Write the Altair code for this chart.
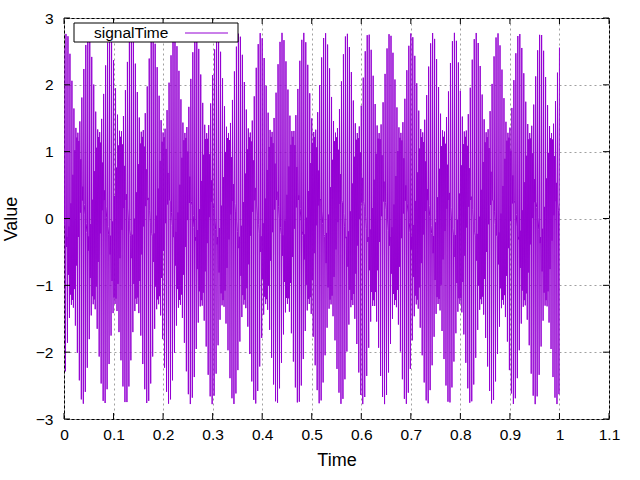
import numpy as np
import pandas as pd
import altair as alt

# ---- chart values ----
x_ticks = [0, 0.1, 0.2, 0.3, 0.4, 0.5, 0.6, 0.7, 0.8, 0.9, 1.0, 1.1]
y_ticks = [-3, -2, -1, 0, 1, 2, 3]
series_name = "signalTime"
x_title = "Time"
y_title = "Value"

# The signal is far too dense to read sample by sample; it is described by
# its estimated sampling and its sinusoidal components (amplitude, Hz, phase).
sample_rate = 1000
n_samples = 1001
comp_amp = [1.25, 1.1, 0.75]
comp_freq = [500.0, 250.0, 273.0]
comp_phase = [np.pi / 2, np.pi / 4, np.pi / 4]

t = np.arange(n_samples) / sample_rate
v = np.zeros_like(t)
for a, f, p in zip(comp_amp, comp_freq, comp_phase):
    v = v + a * np.sin(2 * np.pi * f * t + p)
df = pd.DataFrame({"Time": t, "Value": v})

W, H = 545, 401
FONT = "Liberation Sans"
PURPLE = "#9400d3"

xs = alt.Scale(domain=[0, 1.1], nice=False, zero=False)
ys = alt.Scale(domain=[-3, 3], nice=False, zero=False)
xa = alt.Axis(values=x_ticks, format="~g", title=x_title, ticks=False, domain=False,
              grid=True, gridDash=[2, 3], gridColor="#a0a0a0", gridWidth=1,
              labelPadding=8, titlePadding=9, labelFlush=False)
ya = alt.Axis(values=y_ticks, format="~g", title=y_title, ticks=False, domain=False,
              grid=True, gridDash=[2, 3], gridColor="#a0a0a0", gridWidth=1,
              labelPadding=11, titlePadding=15, labelFlush=False)

line = alt.Chart(df).mark_line(color=PURPLE, strokeWidth=1, clip=True).encode(
    x=alt.X("Time:Q", scale=xs, axis=xa),
    y=alt.Y("Value:Q", scale=ys, axis=ya),
)

xt = pd.DataFrame({"Time": x_ticks})
yt = pd.DataFrame({"Value": y_ticks})
tick_x_bottom = alt.Chart(xt).mark_rule(color="black", strokeWidth=1).encode(
    x=alt.X("Time:Q", scale=xs, axis=xa), y=alt.value(H), y2=alt.value(H - 6))
tick_x_top = alt.Chart(xt).mark_rule(color="black", strokeWidth=1).encode(
    x=alt.X("Time:Q", scale=xs, axis=xa), y=alt.value(0), y2=alt.value(6))
tick_y_left = alt.Chart(yt).mark_rule(color="black", strokeWidth=1).encode(
    y=alt.Y("Value:Q", scale=ys, axis=ya), x=alt.value(0), x2=alt.value(6))
tick_y_right = alt.Chart(yt).mark_rule(color="black", strokeWidth=1).encode(
    y=alt.Y("Value:Q", scale=ys, axis=ya), x=alt.value(W - 6), x2=alt.value(W))

one = pd.DataFrame({"k": [0]})
key_box = alt.Chart(one).mark_rect(fill="white", stroke="black", strokeWidth=1).encode(
    x=alt.value(10), x2=alt.value(174), y=alt.value(5), y2=alt.value(24))
key_text = alt.Chart(one).mark_text(align="left", baseline="middle", font=FONT, fontSize=15.5,
                                    color="black").encode(
    x=alt.value(30), y=alt.value(14.5), text=alt.value(series_name))
key_line = alt.Chart(one).mark_rule(color=PURPLE, strokeWidth=1).encode(
    x=alt.value(121), x2=alt.value(164), y=alt.value(15))

chart = alt.layer(line, tick_x_bottom, tick_x_top, tick_y_left, tick_y_right,
                  key_box, key_text, key_line).properties(
    width=W, height=H,
    autosize=alt.AutoSizeParams(type="none"),
    padding={"left": 64, "top": 18, "right": 31, "bottom": 61},
    background="white",
).configure_view(stroke="black", strokeWidth=1).configure_axis(
    labelFont=FONT, titleFont=FONT, labelFontSize=15.5, titleFontSize=18,
    labelColor="black", titleColor="black", titleFontWeight="normal",
)

chart.save("out.html", embed_options={"renderer": "svg", "actions": False})
